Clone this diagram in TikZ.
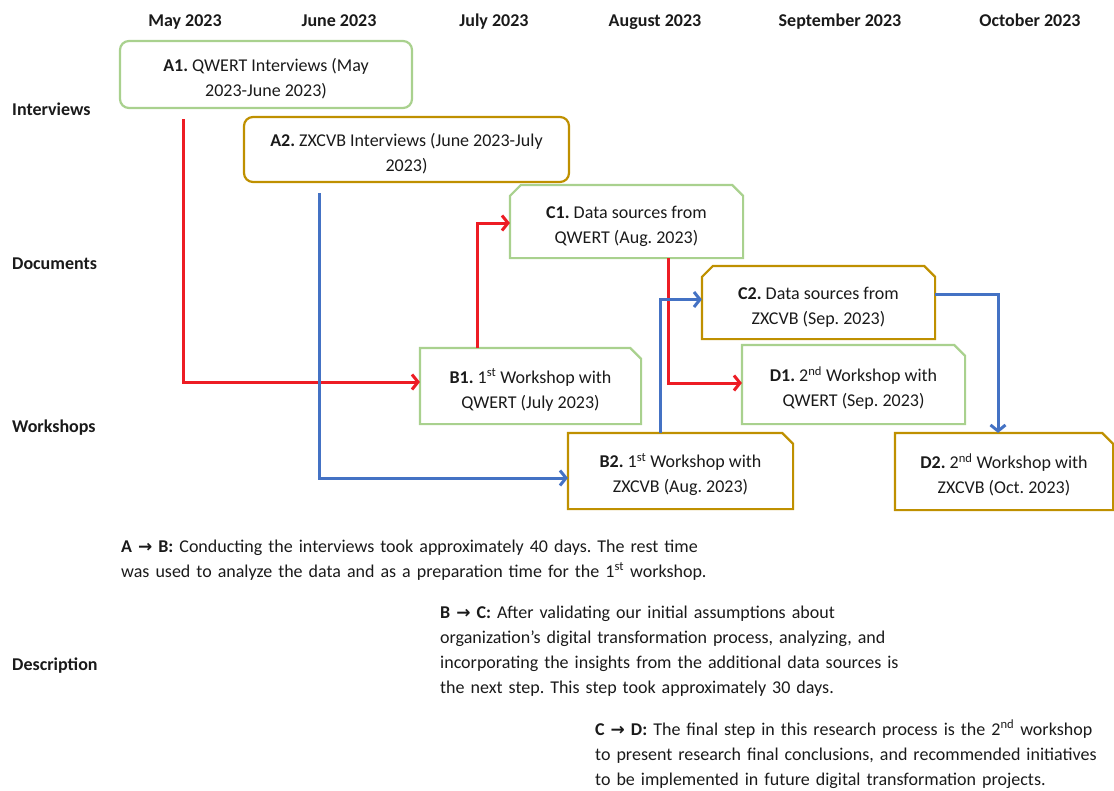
\documentclass[tikz,border=0pt]{standalone}
\usepackage{fontspec}
\setmainfont{Carlito}
\newfontfamily\arrowfont{DejaVu Sans}
\usetikzlibrary{arrows.meta}
\definecolor{grn}{HTML}{A9D18E}
\definecolor{gld}{HTML}{BF9000}
\definecolor{rd}{HTML}{ED1C24}
\definecolor{bl}{HTML}{4472C4}
\definecolor{txt}{HTML}{1A1A1A}
\newcommand{\arr}{{\arrowfont\bfseries\fontsize{17}{24}\selectfont →}}
\newcommand{\tstrut}{\rule{0pt}{22pt}}
\frenchspacing
\begin{document}
\frenchspacing
\begin{tikzpicture}[x=1pt,y=-1pt,
  every node/.style={font=\fontsize{18}{25}\selectfont\frenchspacing, text=txt},
  hdr/.style={font=\fontsize{18}{25}\selectfont\bfseries, anchor=base},
  rowlbl/.style={font=\fontsize{18}{25}\selectfont\bfseries, anchor=base west, inner sep=0pt},
  box/.style={align=center, inner sep=0pt, line width=2.2pt},
  rbox/.style={box, draw, rounded corners=9pt},
  outline/.style={line width=2.2pt, line join=miter},
  conn/.style={line width=3pt, -{Straight Barb[length=6pt,width=15pt]}},
  desc/.style={align=left, anchor=base west, inner sep=0pt, text width=640pt}
]
\useasboundingbox (0,0) rectangle (1114,790);
% headers
\node[hdr] (hmay) at (185,26) {May 2023};
\node[hdr] (hjun) at (339,26) {June 2023};
\node[hdr] (hjul) at (494,26) {July 2023};
\node[hdr] (haug) at (655,26) {August 2023};
\node[hdr] (hsep) at (840,26) {September 2023};
\node[hdr] (hoct) at (1030,26) {October 2023};
% row labels
\node[rowlbl] (rint) at (12,115) {Interviews};
\node[rowlbl] (rdoc) at (12,269) {Documents};
\node[rowlbl] (rwor) at (12,432) {Workshops};
\node[rowlbl] (rdes) at (12,670) {Description};
% boxes
\node[rbox, draw=grn, minimum width=292pt, minimum height=67pt] (a1) at (266,74.5)
  {\tstrut\textbf{A1.} QWERT Interviews (May\\2023-June 2023)};
\node[rbox, draw=gld, minimum width=325pt, minimum height=65pt] (a2) at (406.5,149.5)
  {\tstrut\textbf{A2.} ZXCVB Interviews (June 2023-July\\2023)};
\node[box, minimum width=231pt, minimum height=71pt] (c1) at (626.5,221.5)
  {\tstrut\textbf{C1.} Data sources from\\QWERT (Aug. 2023)};
\node[box, minimum width=231pt, minimum height=71pt] (c2) at (818.5,302.5)
  {\tstrut\textbf{C2.} Data sources from\\ZXCVB (Sep. 2023)};
\node[box, minimum width=219pt, minimum height=74pt] (b1) at (530.5,386)
  {\tstrut\textbf{B1.} 1\textsuperscript{st} Workshop with\\QWERT (July 2023)};
\node[box, minimum width=221pt, minimum height=77pt] (d1) at (853.5,384.5)
  {\tstrut\textbf{D1.} 2\textsuperscript{nd} Workshop with\\QWERT (Sep. 2023)};
\node[box, minimum width=223pt, minimum height=74pt] (b2) at (680.5,471)
  {\tstrut\textbf{B2.} 1\textsuperscript{st} Workshop with\\ZXCVB (Aug. 2023)};
\node[box, minimum width=216pt, minimum height=75pt] (d2) at (1004,471.5)
  {\tstrut\textbf{D2.} 2\textsuperscript{nd} Workshop with\\ZXCVB (Oct. 2023)};
% snipped outlines
\foreach \n/\c in {b1/grn,d1/grn,b2/gld,d2/gld}
  \draw[outline, \c] (\n.south west) -- (\n.north west) -- ([xshift=-11pt]\n.north east)
    -- ([yshift=-11pt]\n.north east) -- (\n.south east) -- cycle;
\foreach \n/\c in {c1/grn,c2/gld}
  \draw[outline, \c] (\n.south west) -- ([yshift=-11pt]\n.north west) -- ([xshift=11pt]\n.north west)
    -- ([xshift=-11pt]\n.north east) -- ([yshift=-11pt]\n.north east) -- (\n.south east) -- cycle;
% red connectors
\draw[conn, rd] ([xshift=65pt,yshift=-10pt]a1.south west) |- ([yshift=4pt]b1.west);
\draw[conn, rd] ([xshift=58pt]b1.north west) |- ([yshift=-1.5pt]c1.west);
\draw[conn, rd] ([xshift=159pt]c1.south west) |- ([yshift=1.5pt]d1.west);
% blue connectors
\draw[conn, bl] ([xshift=77pt,yshift=-10pt]a2.south west) |- ([yshift=-7pt]b2.west);
\draw[conn, bl] ([xshift=93pt]b2.north west) |- ([yshift=3pt]c2.west);
\draw[conn, bl] ([yshift=8pt]c2.east) -| ([xshift=-6pt]d2.north);
% descriptions
\node[desc] (dab) at (121,552)
  {\textbf{A \arr{} B:} Conducting the interviews took approximately 40 days. The rest time\\
   was used to analyze the data and as a preparation time for the 1\textsuperscript{st} workshop.};
\node[desc] (dbc) at (440,618)
  {\textbf{B \arr{} C:} After validating our initial assumptions about\\
   organization’s digital transformation process, analyzing, and\\
   incorporating the insights from the additional data sources is\\
   the next step. This step took approximately 30 days.};
\node[desc] (dcd) at (595,735)
  {\textbf{C \arr{} D:} The final step in this research process is the 2\textsuperscript{nd} workshop\\
   to present research final conclusions, and recommended initiatives\\
   to be implemented in future digital transformation projects.};
\end{tikzpicture}
\end{document}
